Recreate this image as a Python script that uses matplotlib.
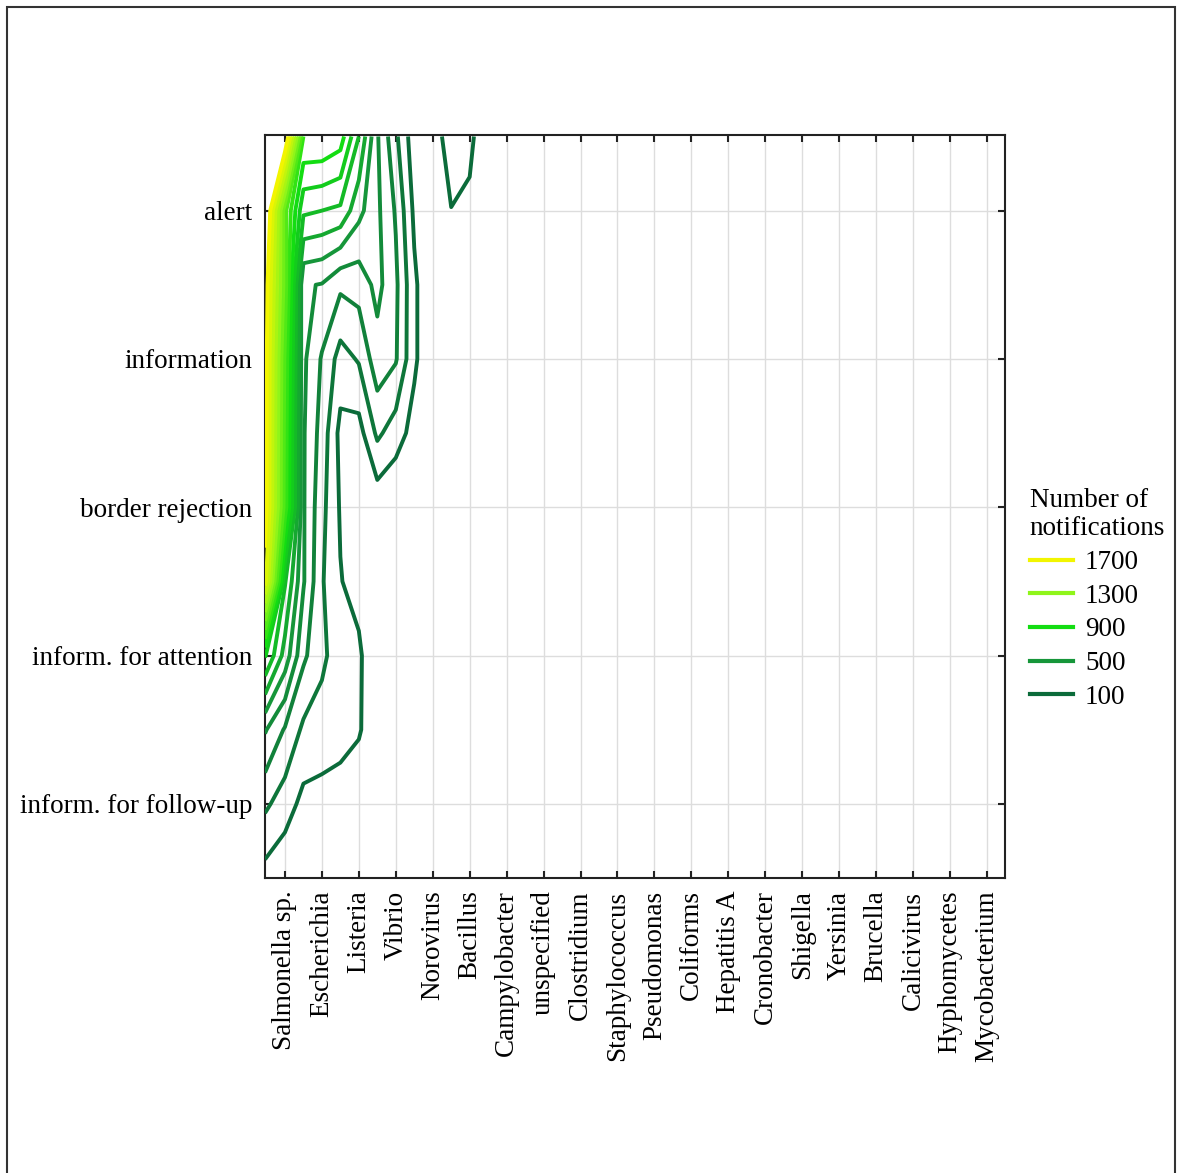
import matplotlib
matplotlib.use('Agg')
import matplotlib.pyplot as plt
import numpy as np
from matplotlib.colors import LinearSegmentedColormap, Normalize
from matplotlib.lines import Line2D
from matplotlib.patches import Rectangle

pathogens = ['Salmonella sp.', 'Escherichia', 'Listeria', 'Vibrio', 'Norovirus',
             'Bacillus', 'Campylobacter', 'unspecified', 'Clostridium',
             'Staphylococcus', 'Pseudomonas', 'Coliforms', 'Hepatitis A',
             'Cronobacter', 'Shigella', 'Yersinia', 'Brucella', 'Calicivirus',
             'Hyphomycetes', 'Mycobacterium']
notif_types = ['inform. for follow-up', 'inform. for attention',
               'border rejection', 'information', 'alert']

# estimated (smoothed) notification counts on a half-step grid
grid_x = [0.46, 1.0, 1.5, 2.0, 2.5, 3.0, 3.5, 4.0, 4.5, 5.0, 5.5, 6.0, 6.5, 20.5]
grid_y = [0.5, 1.0, 1.5, 2.0, 2.5, 3.0, 3.5, 4.0, 4.5, 5.0, 5.5]
counts = [
    [60, 20, 0, 0, 0, 0, 0, 0, 0, 0, 0, 0, 0, 0],
    [220, 150, 70, 60, 50, 0, 0, 0, 0, 0, 0, 0, 0, 0],
    [410, 290, 180, 160, 140, 115, 0, 0, 0, 0, 0, 0, 0, 0],
    [810, 560, 320, 220, 150, 120, 0, 0, 0, 0, 0, 0, 0, 0],
    [1650, 710, 410, 210, 105, 60, 0, 0, 0, 0, 0, 0, 0, 0],
    [1760, 1050, 410, 230, 90, 40, 30, 0, 0, 0, 0, 0, 0, 0],
    [1760, 1060, 410, 260, 70, 60, 220, 150, 60, 0, 0, 0, 0, 0],
    [1760, 1080, 420, 290, 160, 210, 360, 310, 120, 0, 0, 0, 0, 0],
    [1780, 1150, 410, 395, 320, 340, 430, 320, 120, 0, 0, 0, 0, 0],
    [1900, 1130, 720, 700, 680, 530, 420, 290, 80, 0, 95, 75, 0, 0],
    [2100, 1850, 1000, 1000, 950, 700, 410, 220, 40, 0, 200, 130, 0, 0],
]
levels = list(range(100, 1800, 100))
legend_levels = [1700, 1300, 900, 500, 100]

plt.rcParams.update({'font.family': 'Liberation Serif', 'font.size': 19.5})

cmap = LinearSegmentedColormap.from_list(
    'notif', ['#0b6b3a', '#16963a', '#12dd12', '#8ef51a', '#f2f500'])
norm = Normalize(100, 1700)

fig = plt.figure(figsize=(11.77, 11.73), dpi=100)
ax = fig.add_axes([265 / 1177, 1 - 878 / 1173, 740 / 1177, 743 / 1173])

X, Y = np.meshgrid(grid_x, grid_y)
Z = np.array(counts, dtype=float)
ax.contour(X, Y, Z, levels=levels, cmap=cmap, norm=norm, linewidths=2.8, zorder=3)

ax.set_xlim(0.46, 20.49)
ax.set_ylim(0.5, 5.51)
ax.set_xticks(range(1, len(pathogens) + 1))
ax.set_xticklabels(pathogens, rotation=90)
ax.set_yticks(range(1, len(notif_types) + 1))
ax.set_yticklabels(notif_types)
ax.grid(True, color='#dddddd', lw=1, zorder=0)
ax.set_axisbelow(True)
ax.tick_params(direction='in', length=5, width=1.5, top=True, right=True, pad=9,
               colors='#222222', labelcolor='black')
for s in ax.spines.values():
    s.set_color('#222222')
    s.set_linewidth(1.5)

handles = [Line2D([], [], color=cmap(norm(v)), lw=3) for v in legend_levels]
leg = fig.legend(handles, [str(v) for v in legend_levels], title='Number of\nnotifications',
                 loc='upper left', bbox_to_anchor=(1016 / 1177, 1 - 474 / 1173),
                 frameon=False, handlelength=1.6, handletextpad=0.45,
                 labelspacing=0.32, borderpad=0, alignment='left',
                 title_fontsize=19.5, fontsize=19.5)

fig.add_artist(Rectangle((7 / 1177, -0.01), 1168 / 1177, 1 - 7 / 1173 + 0.01,
                         transform=fig.transFigure, fill=False, ec='#333333', lw=1.5))

fig.savefig('out.png', dpi=100)
